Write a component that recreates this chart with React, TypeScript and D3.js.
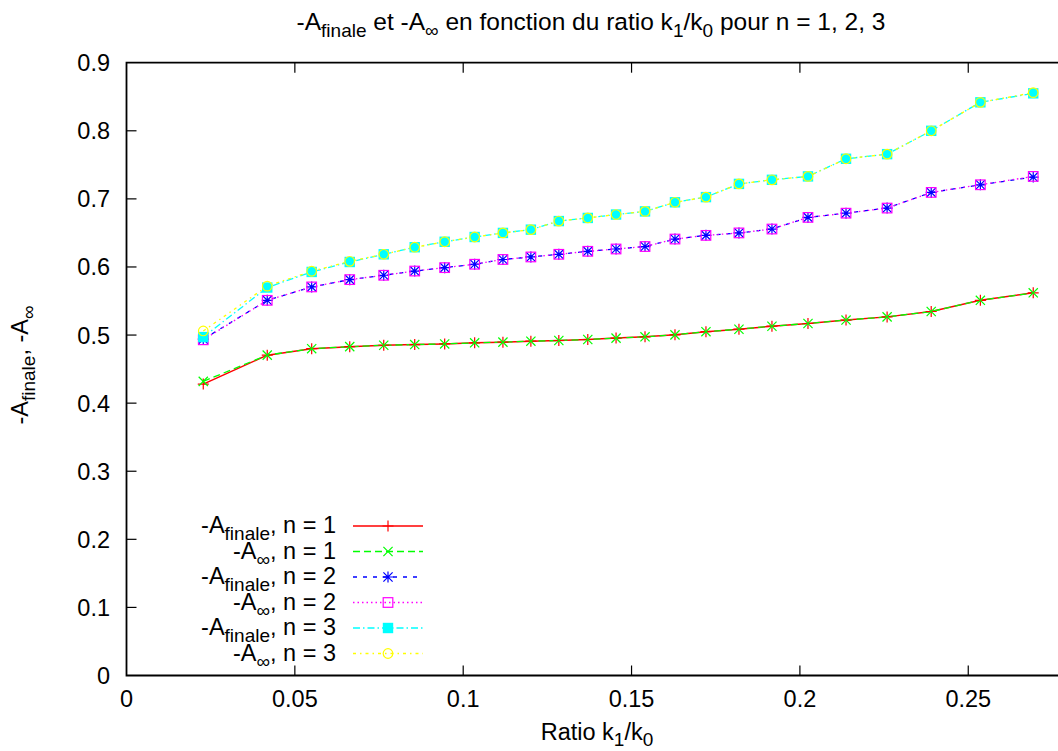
import React from "react";
import * as d3 from "d3";

const ratios = [0.0228, 0.0418, 0.055, 0.0663, 0.0764, 0.0856, 0.0945, 0.1034, 0.1118, 0.1201, 0.1284, 0.137, 0.1454, 0.154, 0.1629, 0.1721, 0.1819, 0.1917, 0.2024, 0.2137, 0.2259, 0.239, 0.2536, 0.2693];

const finaleN1 = [0.428, 0.4705, 0.48, 0.483, 0.485, 0.486, 0.487, 0.4886, 0.4896, 0.491, 0.492, 0.4935, 0.4955, 0.4974, 0.5003, 0.505, 0.5086, 0.513, 0.517, 0.522, 0.5267, 0.5346, 0.551, 0.562];
const infN1 = [0.432, 0.4705, 0.48, 0.483, 0.485, 0.486, 0.487, 0.4886, 0.4896, 0.491, 0.492, 0.4935, 0.4955, 0.4974, 0.5003, 0.505, 0.5086, 0.513, 0.517, 0.522, 0.5267, 0.5346, 0.551, 0.562];
const finaleN2 = [0.494, 0.551, 0.5707, 0.5814, 0.5878, 0.594, 0.599, 0.604, 0.611, 0.6147, 0.6186, 0.623, 0.6264, 0.63, 0.641, 0.6464, 0.65, 0.6557, 0.6728, 0.679, 0.6865, 0.7095, 0.7207, 0.732];
const infN2 = [0.493, 0.551, 0.5707, 0.5814, 0.5878, 0.594, 0.599, 0.604, 0.611, 0.6147, 0.6186, 0.623, 0.6264, 0.63, 0.641, 0.6464, 0.65, 0.6557, 0.6728, 0.679, 0.6865, 0.7095, 0.7207, 0.733];
const finaleN3 = [0.497, 0.5698, 0.5927, 0.6073, 0.6186, 0.629, 0.637, 0.644, 0.65, 0.6548, 0.6674, 0.672, 0.677, 0.6816, 0.695, 0.7026, 0.722, 0.728, 0.733, 0.7589, 0.7657, 0.8, 0.8418, 0.855];
const infN3 = [0.506, 0.5718, 0.5937, 0.6083, 0.6186, 0.629, 0.637, 0.644, 0.65, 0.6548, 0.6674, 0.672, 0.677, 0.6816, 0.695, 0.7026, 0.722, 0.728, 0.733, 0.7589, 0.7657, 0.8, 0.8418, 0.856];

const xTicks = [0, 0.05, 0.1, 0.15, 0.2, 0.25];
const xTickLabels = ["0", "0.05", "0.1", "0.15", "0.2", "0.25"];
const yTicks = [0, 0.1, 0.2, 0.3, 0.4, 0.5, 0.6, 0.7, 0.8, 0.9];
const yTickLabels = ["0", "0.1", "0.2", "0.3", "0.4", "0.5", "0.6", "0.7", "0.8", "0.9"];

const seriesSub = ["finale", "∞", "finale", "∞", "finale", "∞"];
const seriesN = ["1", "1", "2", "2", "3", "3"];
const seriesValues = [finaleN1, infN1, finaleN2, infN2, finaleN3, infN3];

const colors = ["#ff0000", "#00ff00", "#0000ff", "#ff00ff", "#00ffff", "#ffff00"];
const dashes = ["", "7,4", "4,6", "1.5,3", "7,3,1.5,3", "3,4,1.5,4"];
const markers = ["plus", "cross", "star", "square", "fsquare", "circle"];

const FONT = "'Liberation Sans', Arial, Helvetica, sans-serif";
const MAIN = 23.5;
const SUB = 19;
const SUBDY = 7;

function Marker({ type, x, y, color }: { type: string; x: number; y: number; color: string }) {
  const s = 5.5;
  const c = 4.6;
  const sw = 1.2;
  if (type === "plus")
    return <path d={`M${x - s},${y}H${x + s}M${x},${y - s}V${y + s}`} stroke={color} strokeWidth={sw} fill="none" />;
  if (type === "cross")
    return <path d={`M${x - c},${y - c}L${x + c},${y + c}M${x - c},${y + c}L${x + c},${y - c}`} stroke={color} strokeWidth={sw} fill="none" />;
  if (type === "star")
    return (
      <path
        d={`M${x - s},${y}H${x + s}M${x},${y - s}V${y + s}M${x - c},${y - c}L${x + c},${y + c}M${x - c},${y + c}L${x + c},${y - c}`}
        stroke={color}
        strokeWidth={sw}
        fill="none"
      />
    );
  if (type === "square")
    return <rect x={x - 4.8} y={y - 4.8} width={9.6} height={9.6} stroke={color} strokeWidth={sw} fill="none" />;
  if (type === "fsquare")
    return <rect x={x - 5.2} y={y - 5.2} width={10.4} height={10.4} fill={color} stroke="none" />;
  return <circle cx={x} cy={y} r={4.8} stroke={color} strokeWidth={sw} fill="none" />;
}

export default function App() {
  const W = 1058;
  const H = 751;
  const left = 126.5;
  const top = 62.7;
  const bottom = 675.5;
  const x = d3.scaleLinear().domain([0, 0.28]).range([left, left + 0.28 * 3367]);
  const y = d3.scaleLinear().domain([0, 0.9]).range([bottom, top]);
  const right = x(0.28);
  const line = d3
    .line<number>()
    .x((_, i) => x(ratios[i]))
    .y((d) => y(d));

  const legendTextX = 336;
  const legendLineX0 = 353;
  const legendLineX1 = 423;
  const legendY0 = 526;
  const legendDy = 25.5;

  return (
    <svg width={W} height={H} style={{ position: "absolute", left: 0, top: 0, background: "#fff" }} fontFamily={FONT}>
      <rect x={0} y={0} width={W} height={H} fill="#fff" />
      {/* title */}
      <text x={591} y={30} textAnchor="middle" fontSize={24.5} fill="#000">
        -A<tspan dy={SUBDY} fontSize={SUB}>finale</tspan>
        <tspan dy={-SUBDY}> et -A</tspan>
        <tspan dy={SUBDY} fontSize={SUB}>∞</tspan>
        <tspan dy={-SUBDY}> en fonction du ratio k</tspan>
        <tspan dy={SUBDY} fontSize={SUB}>1</tspan>
        <tspan dy={-SUBDY}>/k</tspan>
        <tspan dy={SUBDY} fontSize={SUB}>0</tspan>
        <tspan dy={-SUBDY}> pour n = 1, 2, 3</tspan>
      </text>

      {/* series lines */}
      {seriesValues.map((vals, si) => (
        <path key={"l" + si} d={line(vals) || ""} fill="none" stroke={colors[si]} strokeWidth={si === 0 ? 1.5 : 1.3} strokeDasharray={dashes[si] || undefined} />
      ))}
      {seriesValues.map((vals, si) => (
        <g key={"m" + si}>
          {vals.map((v, i) => (
            <Marker key={i} type={markers[si]} x={x(ratios[i])} y={y(v)} color={colors[si]} />
          ))}
        </g>
      ))}

      {/* axes frame */}
      <path d={`M${right},${top}H${left}V${bottom}H${right}`} fill="none" stroke="#000" strokeWidth={1.8} />
      {yTicks.map((t, i) => (
        <g key={"yt" + i}>
          {i > 0 && i < yTicks.length - 1 && <line x1={left} x2={left + 10} y1={y(t)} y2={y(t)} stroke="#000" strokeWidth={1.2} />}
          <text x={110} y={y(t) + 8.5} textAnchor="end" fontSize={MAIN} fill="#000">
            {yTickLabels[i]}
          </text>
        </g>
      ))}
      {xTicks.map((t, i) => (
        <g key={"xt" + i}>
          {i > 0 && (
            <>
              <line x1={x(t)} x2={x(t)} y1={bottom} y2={bottom - 10} stroke="#000" strokeWidth={1.2} />
              <line x1={x(t)} x2={x(t)} y1={top} y2={top + 10} stroke="#000" strokeWidth={1.2} />
            </>
          )}
          <text x={x(t)} y={707} textAnchor="middle" fontSize={MAIN} fill="#000">
            {xTickLabels[i]}
          </text>
        </g>
      ))}

      {/* axis labels */}
      <text x={597} y={740} textAnchor="middle" fontSize={MAIN} fill="#000">
        Ratio k<tspan dy={6} fontSize={SUB}>1</tspan>
        <tspan dy={-6}>/k</tspan>
        <tspan dy={6} fontSize={SUB}>0</tspan>
      </text>
      <text transform={`translate(28,365) rotate(-90)`} textAnchor="middle" fontSize={MAIN} fill="#000">
        -A<tspan dy={SUBDY} fontSize={SUB}>finale</tspan>
        <tspan dy={-SUBDY}>, -A</tspan>
        <tspan dy={SUBDY} fontSize={SUB}>∞</tspan>
      </text>

      {/* legend */}
      {seriesValues.map((_, si) => {
        const ly = legendY0 + si * legendDy;
        return (
          <g key={"lg" + si}>
            <text x={legendTextX} y={ly + 7} textAnchor="end" fontSize={MAIN} fill="#000">
              -A<tspan dy={SUBDY} fontSize={SUB}>{seriesSub[si]}</tspan>
              <tspan dy={-SUBDY}>, n = {seriesN[si]}</tspan>
            </text>
            <line x1={legendLineX0} x2={legendLineX1} y1={ly} y2={ly} stroke={colors[si]} strokeWidth={si === 0 ? 1.5 : 1.3} strokeDasharray={dashes[si] || undefined} />
            <Marker type={markers[si]} x={(legendLineX0 + legendLineX1) / 2} y={ly} color={colors[si]} />
          </g>
        );
      })}
    </svg>
  );
}
